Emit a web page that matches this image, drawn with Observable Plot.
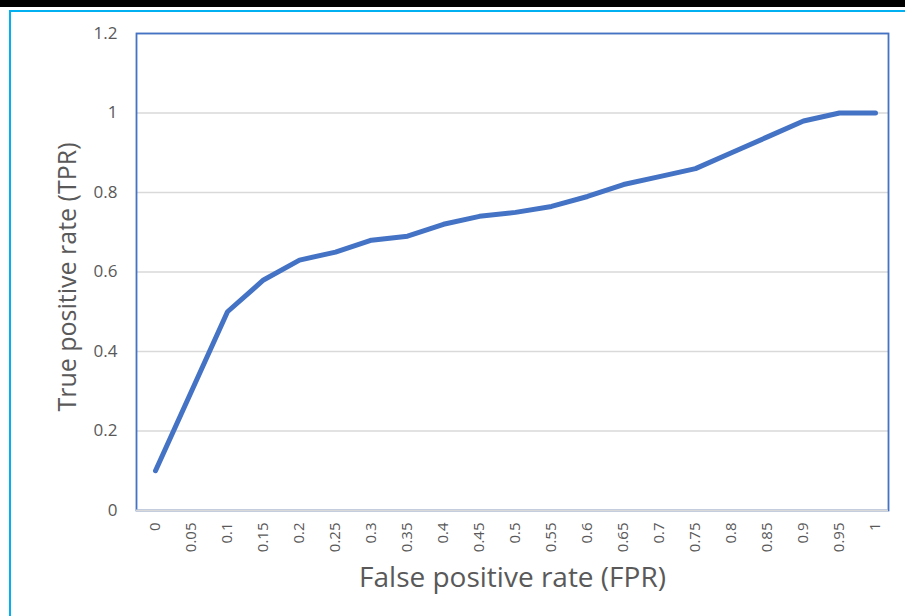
<!DOCTYPE html>
<html>
<head>
<meta charset="utf-8">
<script src="https://cdn.jsdelivr.net/npm/d3@7"></script>
<script src="https://cdn.jsdelivr.net/npm/@observablehq/plot@0.6"></script>
<style>
  html, body { margin: 0; padding: 0; background: #fff; }
  #wrap { position: relative; width: 905px; height: 616px; overflow: hidden; }
  #topbar { position: absolute; left: 0; top: 0; width: 905px; height: 7px; background: #000; }
  #border { position: absolute; left: 9px; top: 10px; width: 910px; height: 620px; border-left: 2px solid #00b0f0; border-top: 2px solid #00b0f0; box-sizing: border-box; }
  #chart { position: absolute; left: 0; top: 0; }
</style>
</head>
<body>
<div id="wrap">
  <div id="topbar"></div>
  <div id="border"></div>
  <div id="chart"></div>
</div>
<script>
const fprLabels = ["0","0.05","0.1","0.15","0.2","0.25","0.3","0.35","0.4","0.45","0.5","0.55","0.6","0.65","0.7","0.75","0.8","0.85","0.9","0.95","1"];
const tprValues = [0.10,0.30,0.50,0.58,0.63,0.65,0.68,0.69,0.72,0.74,0.75,0.765,0.79,0.82,0.84,0.86,0.90,0.94,0.98,1.00,1.00];
const yTicks = [0,0.2,0.4,0.6,0.8,1,1.2];
const xTitle = "False positive rate (FPR)";
const yTitle = "True positive rate (TPR)";

const data = fprLabels.map((f, i) => ({fpr: f, tpr: tprValues[i]}));

const chart = Plot.plot({
  width: 905,
  height: 616,
  marginLeft: 136,
  marginRight: 17,
  marginTop: 33,
  marginBottom: 106,
  style: {fontFamily: "'Open Sans', sans-serif", fontSize: "16px", color: "#595959", background: "transparent", overflow: "visible"},
  x: {type: "point", domain: fprLabels, range: [155, 875], padding: 0},
  y: {domain: [0, 1.2]},
  marks: [
    Plot.gridY(yTicks, {stroke: "#d9d9d9", strokeOpacity: 1, strokeWidth: 1.5}),
    Plot.frame({stroke: "#4472c4", strokeWidth: 1.8}),
    Plot.ruleY([0], {stroke: "#d9d9d9", strokeWidth: 2}),
    Plot.axisY({ticks: yTicks, tickSize: 0, tickPadding: 19, fontSize: 17, tickFormat: d => String(+d.toFixed(1)), label: null}),
    Plot.axisX({tickSize: 0, tickPadding: 12, tickRotate: -90, fontSize: 15, label: null}),
    Plot.line(data, {x: "fpr", y: "tpr", stroke: "#4472c4", strokeWidth: 5, strokeLinecap: "round", strokeLinejoin: "round"}),
    Plot.text([xTitle], {frameAnchor: "bottom", textAnchor: "middle", lineAnchor: "middle", dx: 0, dy: 68, text: d => d, fontSize: 28, fill: "#595959"}),
    Plot.text([yTitle], {frameAnchor: "left", textAnchor: "middle", lineAnchor: "middle", dx: -69, dy: 5, rotate: -90, text: d => d, fontSize: 25, fill: "#595959"})
  ]
});
document.getElementById("chart").appendChild(chart);
</script>
</body>
</html>
